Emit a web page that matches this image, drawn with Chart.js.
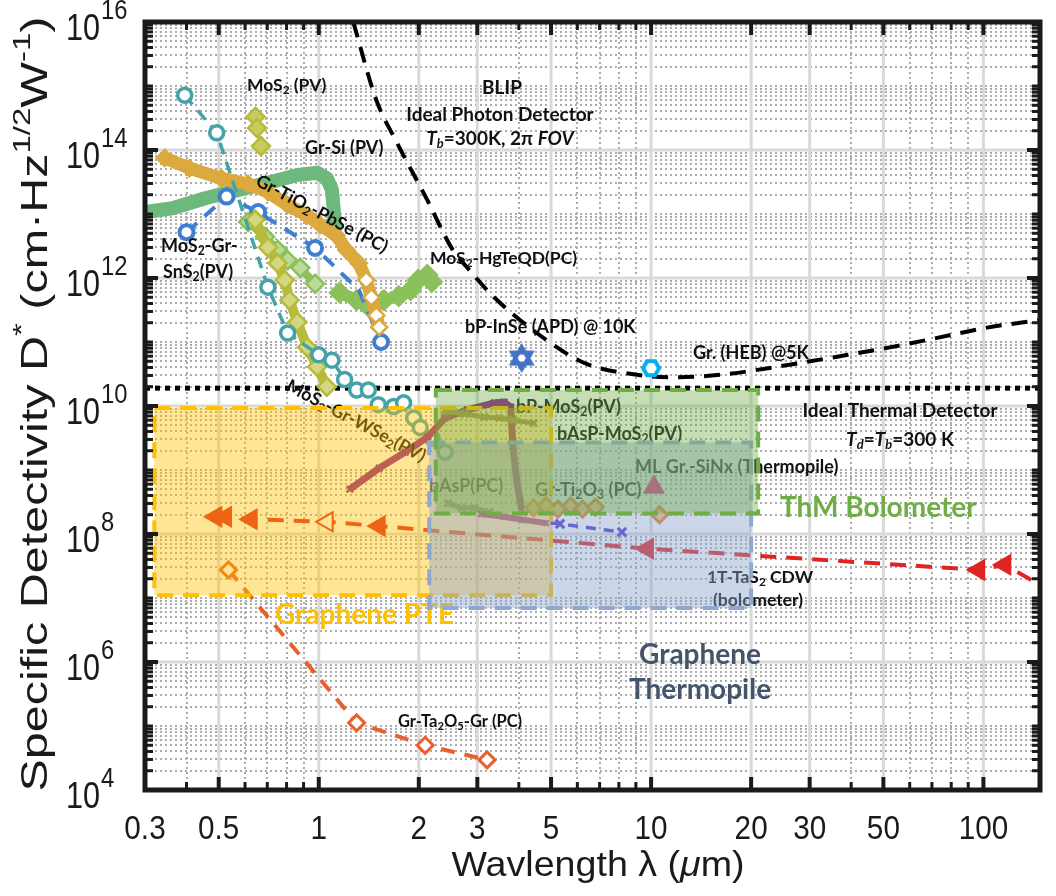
<!DOCTYPE html>
<html><head><meta charset="utf-8">
<style>html,body{margin:0;padding:0;background:#fff;}canvas{display:block}</style>
<script src="https://cdn.jsdelivr.net/npm/chart.js@4.4.1/dist/chart.umd.min.js"></script>
</head><body>
<canvas id="c" width="1056" height="896"></canvas>
<script>
// ---------- axis ranges & ticks ----------
const X_MIN = 0.3, X_MAX = 148, Y_MIN = 1e4, Y_MAX = 1e16;
const xTickValues = [0.3, 0.5, 1, 2, 3, 5, 10, 20, 30, 50, 100];
const xTickLabels = ['0.3', '0.5', '1', '2', '3', '5', '10', '20', '30', '50', '100'];
const yTickExponents = [4, 6, 8, 10, 12, 14, 16];

// ---------- series (wavelength in um, D* in Jones) ----------
const blipX = [1.27, 1.49, 1.70, 2.12, 2.53, 2.84, 3.37, 4.67, 6.30, 8.74, 11.8, 16.9, 24.6, 36.3, 51.4, 70.3, 101.5, 148];
const blipY = [1e16, 6e14, 1.45e14, 1.66e13, 2.75e12, 1.33e12, 5e11, 1.23e11, 4.7e10, 3.16e10, 2.8e10, 3.16e10, 4.2e10, 5.9e10, 8.1e10, 1.12e11, 1.66e11, 2.2e11];
const thermalX = [0.3, 148];
const thermalY = [1.9e10, 1.9e10];

const pbseX = [0.344, 0.408, 0.510, 0.613, 0.703, 0.806, 0.923, 1.009, 1.13, 1.21, 1.32, 1.39, 1.44, 1.49, 1.52];
const pbseY = [7.5e13, 5.2e13, 3.6e13, 2.95e13, 2.2e13, 1.38e13, 9.5e12, 6.8e12, 4.6e12, 2.75e12, 1.7e12, 9.3e11, 5e11, 2.6e11, 1.7e11];
const grSiX = [0.3, 0.363, 0.458, 0.573, 0.717, 0.862, 0.989, 1.058, 1.095, 1.11, 1.116];
const grSiY = [1.07e13, 1.23e13, 1.78e13, 2.37e13, 3.16e13, 4.07e13, 4.4e13, 3.6e13, 2.4e13, 1.15e13, 5.6e12];
const snS2X = [0.40, 0.528, 0.657, 0.975, 1.32, 1.54];
const snS2Y = [5.2e12, 1.87e13, 1.07e13, 2.95e12, 6.5e11, 1e11];
const wse2X = [0.395, 0.493, 0.703, 0.806, 1.0, 1.095, 1.196, 1.30, 1.41, 1.51, 1.68, 1.80, 1.93, 2.02, 2.19, 2.40];
const wse2Y = [7.2e14, 1.86e14, 7.2e11, 1.38e11, 6.3e10, 5.2e10, 2.6e10, 1.78e10, 1.78e10, 1.05e10, 9.8e9, 1.12e10, 6.5e9, 4.6e9, 3.16e9, 1.9e9];
const mos2PvX = [0.645, 0.652, 0.67];
const mos2PvY = [3.3e14, 2.2e14, 1.15e14];
const oliveX = [0.644, 0.703, 0.752, 0.79, 0.817, 0.862, 0.923, 0.989, 1.058];
const oliveY = [8.1e12, 3.0e12, 1.7e12, 9.3e11, 4.5e11, 2.05e11, 8.3e10, 4.1e10, 2.0e10];
const greenDX = [0.613, 0.689, 0.752, 0.806, 0.88, 0.975];
const greenDY = [7.5e12, 4.4e12, 2.75e12, 1.9e12, 1.44e12, 8.1e11];
const hgteX = [1.156, 1.30, 1.418, 1.57, 1.74, 1.89, 1.99, 2.12, 2.19];
const hgteY = [5.9e11, 4.5e11, 3.5e11, 4.5e11, 5.2e11, 6.5e11, 9.3e11, 1.12e12, 8.7e11];
const pteX = [0.49, 0.524, 0.626, 1.06, 1.52, 9.75, 96.8, 116, 148];
const pteY = [1.86e8, 1.86e8, 1.7e8, 1.55e8, 1.33e8, 5.9e7, 2.75e7, 3.3e7, 1.6e7];
const ta2o5X = [0.535, 1.30, 2.09, 3.21];
const ta2o5Y = [2.75e7, 1.12e5, 5.0e4, 2.95e4];
const bpMos2X = [1.24, 1.52, 1.82, 2.13, 2.40, 2.80, 3.37, 3.61, 3.78, 3.84, 3.94, 4.08];
const bpMos2Y = [5.0e8, 1.07e9, 1.9e9, 3.3e9, 6.5e9, 8.7e9, 1.12e10, 1.15e10, 9.6e9, 2.3e9, 6.9e8, 2.4e8];
const bpLowX = [3.08, 3.61, 4.13, 4.83];
const bpLowY = [2.05e8, 1.86e8, 1.66e8, 1.48e8];
const basPcX = [2.45, 2.69, 2.93, 3.26];
const basPcY = [3.0e8, 2.57e8, 2.57e8, 2.2e8];
const basMos2X = [2.40, 2.75, 3.15, 3.49, 3.84, 4.43];
const basMos2Y = [8.3e9, 7.5e9, 6.7e9, 6.5e9, 6.0e9, 5.4e9];
const violetX = [4.97, 5.32, 8.17];
const violetY = [1.48e8, 1.44e8, 1.07e8];
const ti2o3X = [4.43, 4.83, 5.24, 5.73, 6.22, 6.8, 10.6];
const ti2o3Y = [2.57e8, 2.75e8, 2.45e8, 2.75e8, 2.45e8, 2.63e8, 2.0e8];
const sinxX = [10.2], sinxY = [5.4e8];
const inseX = [4.08], inseY = [5.6e10];
const hebX = [10.0], hebY = [3.9e10];

// performance regions (x range, y range)
const pteBoxX = [0.32, 5], pteBoxY = [1.1e7, 9.3e9];
const thermoBoxX = [2.15, 20], thermoBoxY = [7e6, 2.7e9];
const boloBoxX = [2.25, 21], boloBoxY = [2.1e8, 1.78e10];

// ---------- helpers ----------
const pts = (xs, ys) => xs.map((x, i) => ({x, y: ys[i]}));

function parseRich(s) {
  const segs = []; let buf = '', i = 0;
  while (i < s.length) {
    const c = s[i];
    if ('_^~!'.includes(c) && s[i + 1] === '{') {
      if (buf) { segs.push({t: buf, k: 'n'}); buf = ''; }
      const j = s.indexOf('}', i);
      segs.push({t: s.slice(i + 2, j), k: c}); i = j + 1;
    } else { buf += c; i++; }
  }
  if (buf) segs.push({t: buf, k: 'n'});
  return segs;
}
function richText(ctx, str, x, y, o) {
  const size = o.size, fam = o.family || 'Lato, "Open Sans", sans-serif', wt = o.weight || 'bold';
  const segs = parseRich(str);
  const fontFor = k => {
    const small = (k === '_' || k === '^' || k === '!');
    const it = (k === '~' || k === '!');
    return (it ? 'italic ' : '') + wt + ' ' + (small ? size * 0.68 : size) + 'px ' + fam;
  };
  ctx.save();
  ctx.translate(x, y);
  if (o.rot) ctx.rotate(o.rot * Math.PI / 180);
  let w = 0;
  segs.forEach(s => { ctx.font = fontFor(s.k); s.w = ctx.measureText(s.t).width; w += s.w; });
  const sx = o.width ? o.width / w : (o.sx || 1);
  ctx.scale(sx, 1);
  let cx = o.align === 'center' ? -w / 2 : (o.align === 'right' ? -w : 0);
  ctx.textBaseline = 'middle';
  ctx.fillStyle = o.color || '#000';
  segs.forEach(s => {
    ctx.font = fontFor(s.k);
    const dy = (s.k === '_' || s.k === '!') ? size * 0.28 : (s.k === '^' ? -size * 0.38 : 0);
    ctx.fillText(s.t, cx, dy);
    cx += s.w;
  });
  ctx.restore();
}

function hexagram(size, color, lw) {
  const c = document.createElement('canvas'); c.width = c.height = size;
  const g = c.getContext('2d'); const r = size / 2 - lw, m = size / 2;
  const tri = off => { g.beginPath(); for (let k = 0; k < 3; k++) { const a = off + k * 2 * Math.PI / 3; const px = m + r * Math.cos(a), py = m + r * Math.sin(a); k ? g.lineTo(px, py) : g.moveTo(px, py); } g.closePath(); };
  g.lineWidth = lw; g.strokeStyle = color; g.fillStyle = '#fff'; g.lineJoin = 'miter';
  tri(-Math.PI / 2); g.fill(); tri(Math.PI / 2); g.fill();
  tri(-Math.PI / 2); g.stroke(); tri(Math.PI / 2); g.stroke();
  return c;
}
function hexagon(size, color, lw) {
  const c = document.createElement('canvas'); c.width = c.height = size;
  const g = c.getContext('2d'); const r = size / 2 - lw, m = size / 2;
  g.beginPath();
  for (let k = 0; k < 6; k++) { const a = k * Math.PI / 3; const px = m + r * Math.cos(a), py = m + r * Math.sin(a); k ? g.lineTo(px, py) : g.moveTo(px, py); }
  g.closePath(); g.fillStyle = '#fff'; g.fill(); g.lineWidth = lw; g.strokeStyle = color; g.stroke();
  return c;
}

// ---------- annotations (text, px, py, align, rotation, size) ----------
const notes = [
  ['MoS_{2} (PV)', 247, 85, 'left', 0, 17.5],
  ['Gr-Si (PV)', 305, 148, 'left', 0, 18],
  ['Gr-TiO_{2}-PbSe (PC)', 322, 214, 'center', 28, 18],
  ['MoS_{2}-Gr-', 161, 246, 'left', 0, 18],
  ['SnS_{2}(PV)', 163, 272, 'left', 0, 18],
  ['MoS_{2}-HgTeQD(PC)', 430, 258, 'left', 0, 17.5],
  ['BLIP', 502, 88, 'center', 0, 19],
  ['Ideal Photon Detector', 500, 115, 'center', 0, 19],
  ['~{T}!{b}=300K, 2π ~{FOV}', 500, 139, 'center', 0, 19],
  ['bP-InSe (APD) @ 10K', 465, 327, 'left', 0, 18],
  ['Gr. (HEB) @5K', 693, 353, 'left', 0, 18],
  ['Ideal Thermal Detector', 900, 411, 'center', 0, 19],
  ['~{T}!{d}=~{T}!{b}=300 K', 900, 440, 'center', 0, 19],
  ['MoS_{2}-Gr-WSe_{2}(PV)', 356, 421, 'center', 28, 18],
  ['bP-MoS_{2}(PV)', 516, 407, 'left', 0, 18],
  ['bAsP-MoS_{2}(PV)', 557, 434, 'left', 0, 18],
  ['bAsP(PC)', 429, 486, 'left', 0, 18],
  ['Gr-Ti_{2}O_{3} (PC)', 535, 490, 'left', 0, 18],
  ['ML Gr.-SiNx (Thermopile)', 635, 467, 'left', 0, 18],
  ['1T-TaS_{2} CDW', 760, 577, 'center', 0, 17.5],
  ['(bolometer)', 758, 600, 'center', 0, 17.5],
  ['Gr-Ta_{2}O_{5}-Gr (PC)', 398, 722, 'left', 0, 16.5]
];
const regionNotes = [
  ['Graphene PTE', 275, 615, 'left', '#ffc000'],
  ['Graphene', 700, 655, 'center', '#44546a'],
  ['Thermopile', 700, 690, 'center', '#44546a'],
  ['ThM Bolometer', 780, 508, 'left', '#70ad47']
];

function isMajorX(v) { return xTickValues.some(t => Math.abs(t - v) / t < 1e-6); }

const decor = {
  id: 'decor',
  beforeDatasetsDraw(chart) {
    const {ctx, chartArea: a, scales: {x, y}} = chart;
    ctx.save();
    ctx.beginPath(); ctx.rect(a.left, a.top, a.right - a.left, a.bottom - a.top); ctx.clip();
    ctx.strokeStyle = '#acacac'; ctx.lineWidth = 2; ctx.setLineDash([2, 3]);
    for (let e = -1; e <= 2; e++) for (let k = 1; k <= 9; k++) {
      const v = k * Math.pow(10, e);
      if (v < X_MIN - 1e-9 || v > X_MAX || isMajorX(v)) continue;
      const p = Math.round(x.getPixelForValue(v));
      ctx.beginPath(); ctx.moveTo(p, a.top); ctx.lineTo(p, a.bottom); ctx.stroke();
    }
    for (let e = 4; e <= 15; e++) for (let k = 1; k <= 9; k++) {
      if (k === 1 && e % 2 === 0) continue;
      const p = Math.round(y.getPixelForValue(k * Math.pow(10, e)));
      ctx.beginPath(); ctx.moveTo(a.left, p); ctx.lineTo(a.right, p); ctx.stroke();
    }
    ctx.setLineDash([]); ctx.strokeStyle = '#d9d9d9'; ctx.lineWidth = 3;
    xTickValues.forEach(v => { const p = x.getPixelForValue(v); ctx.beginPath(); ctx.moveTo(p, a.top); ctx.lineTo(p, a.bottom); ctx.stroke(); });
    yTickExponents.forEach(e => { const p = y.getPixelForValue(Math.pow(10, e)); ctx.beginPath(); ctx.moveTo(a.left, p); ctx.lineTo(a.right, p); ctx.stroke(); });
    ctx.restore();
  },
  afterDatasetsDraw(chart) {
    const {ctx, chartArea: a, scales: {x, y}} = chart;
    ctx.save();
    ctx.beginPath(); ctx.rect(a.left, a.top, a.right - a.left, a.bottom - a.top); ctx.clip();
    notes.forEach(n => richText(ctx, n[0], n[1], n[2], {align: n[3], rot: n[4], size: n[5], color: '#111'}));
    regionNotes.forEach(n => richText(ctx, n[0], n[1], n[2], {align: n[3], size: 28, color: n[4]}));
    const box = (bx, by, fill, stroke) => {
      const l = x.getPixelForValue(bx[0]), r = x.getPixelForValue(bx[1]);
      const t = y.getPixelForValue(by[1]), b = y.getPixelForValue(by[0]);
      ctx.fillStyle = fill; ctx.fillRect(l, t, r - l, b - t);
      ctx.setLineDash([16, 10]); ctx.lineWidth = 4; ctx.strokeStyle = stroke;
      ctx.strokeRect(l, t, r - l, b - t); ctx.setLineDash([]);
    };
    box(pteBoxX, pteBoxY, 'rgba(255,192,0,0.42)', '#ffc000');
    box(thermoBoxX, thermoBoxY, 'rgba(140,165,205,0.45)', '#8fa8d0');
    box(boloBoxX, boloBoxY, 'rgba(112,173,71,0.40)', '#70ad47');
    ctx.restore();
    ctx.save();
    ctx.strokeStyle = '#1a1a1a';
    const tick = (x1, y1, x2, y2, w) => { ctx.lineWidth = w; ctx.beginPath(); ctx.moveTo(x1, y1); ctx.lineTo(x2, y2); ctx.stroke(); };
    for (let e = -1; e <= 2; e++) for (let k = 1; k <= 9; k++) {
      const v = k * Math.pow(10, e);
      if (v < X_MIN - 1e-9 || v > X_MAX) continue;
      const p = x.getPixelForValue(v), L = isMajorX(v) ? 13 : 8, w = isMajorX(v) ? 4 : 3;
      tick(p, a.bottom, p, a.bottom - L, w); tick(p, a.top, p, a.top + L, w);
    }
    for (let e = 4; e <= 16; e++) for (let k = 1; k <= 9; k++) {
      const v = k * Math.pow(10, e); if (v > Y_MAX) continue;
      const maj = (k === 1 && e % 2 === 0);
      const p = y.getPixelForValue(v), L = maj ? 13 : 8, w = maj ? 4 : 3;
      tick(a.left, p, a.left + L, p, w); tick(a.right, p, a.right - L, p, w);
    }
    ctx.lineWidth = 5; ctx.strokeRect(a.left, a.top, a.right - a.left, a.bottom - a.top);
    ctx.restore();
  },
  afterDraw(chart) {
    const {ctx, chartArea: a, scales: {x, y}} = chart;
    const fam = '"Liberation Sans", Arial, sans-serif';
    xTickValues.forEach((v, i) => richText(ctx, xTickLabels[i], x.getPixelForValue(v), a.bottom + 40, {align: 'center', size: 33, sx: 0.9, family: fam, weight: 'normal', color: '#1a1a1a'}));
    yTickExponents.forEach(e => {
      const p = y.getPixelForValue(Math.pow(10, e));
      richText(ctx, '10', 100, p + 8, {align: 'right', size: 36, sx: 0.85, family: fam, weight: 'normal', color: '#1a1a1a'});
      richText(ctx, String(e), 101, p - 11, {align: 'left', size: 28, sx: 0.85, family: fam, weight: 'normal', color: '#1a1a1a'});
    });
    richText(ctx, 'Wavlength λ (~{μ}m)', 598, 866, {align: 'center', size: 35, width: 293, family: fam, weight: 'normal', color: '#1a1a1a'});
    richText(ctx, 'Specific Detectivity D^{*} (cm·Hz^{1/2}W^{-1})', 37, 404, {align: 'center', size: 36, width: 775, rot: -90, family: fam, weight: 'normal', color: '#1a1a1a'});
  }
};

const openTri = pteX.map((v, i) => i === 3 ? '#ffffff' : '#e02424');
const pbseFill = pbseX.map((v, i) => i >= 11 ? '#ffffff' : '#dba93d');
const violetR = violetX.map((v, i) => i === 0 ? 0 : 6);
const pteR = pteX.map((v, i) => i === pteX.length - 1 ? 0 : 11);

const datasets = [
  {data: pts(inseX, inseY), showLine: false, pointStyle: hexagram(30, '#4472c4', 4), pointRadius: 15},
  {data: pts(hebX, hebY), showLine: false, pointStyle: hexagon(24, '#00b0f0', 4), pointRadius: 12},
  {data: pts(sinxX, sinxY), showLine: false, pointStyle: 'triangle', pointRadius: 12, pointBackgroundColor: '#ff0088', pointBorderColor: '#ff0088'},
  {data: pts(ti2o3X, ti2o3Y), showLine: false, pointStyle: 'rectRot', pointRadius: 8, pointBorderWidth: 3, pointBorderColor: '#e87a20', pointBackgroundColor: '#f6c48a'},
  {data: pts(pteX, pteY), borderColor: '#e02424', borderWidth: 4, borderDash: [16, 10], pointStyle: 'triangle', pointRotation: -90, pointRadius: pteR, pointBorderWidth: 2, pointBorderColor: '#e02424', pointBackgroundColor: openTri},
  {data: pts(ta2o5X, ta2o5Y), borderColor: '#e8602c', borderWidth: 4, borderDash: [14, 10], pointStyle: 'rectRot', pointRadius: 8, pointBorderWidth: 3, pointBorderColor: '#e8602c', pointBackgroundColor: '#ffffff'},
  {data: pts(violetX, violetY), borderColor: '#4a36d8', borderWidth: 3.5, borderDash: [10, 8], pointStyle: 'crossRot', pointRadius: violetR, pointBorderWidth: 3, pointBorderColor: '#4a36d8'},
  {data: pts(bpLowX, bpLowY), borderColor: '#8a1a8e', borderWidth: 6, pointStyle: 'crossRot', pointRadius: 4, pointBorderWidth: 2.5, pointBorderColor: '#8a1a8e'},
  {data: pts(basPcX, basPcY), borderColor: '#7f7f7f', borderWidth: 5, pointStyle: 'crossRot', pointRadius: 5, pointBorderWidth: 3, pointBorderColor: '#7f7f7f'},
  {data: pts(basMos2X, basMos2Y), borderColor: '#7f7f7f', borderWidth: 5, pointStyle: 'crossRot', pointRadius: 5, pointBorderWidth: 3, pointBorderColor: '#7f7f7f'},
  {data: pts(bpMos2X, bpMos2Y), borderColor: '#8a1a8e', borderWidth: 7, pointStyle: 'crossRot', pointRadius: 4.5, pointBorderWidth: 2.5, pointBorderColor: '#8a1a8e'},
  {data: pts(wse2X, wse2Y), borderColor: '#44a3a8', borderWidth: 3.5, borderDash: [12, 8], pointStyle: 'circle', pointRadius: 7, pointBorderWidth: 3.5, pointBorderColor: '#44a3a8', pointBackgroundColor: '#ffffff'},
  {data: pts(oliveX, oliveY), borderColor: '#b6bb3b', borderWidth: 10, pointStyle: 'rectRot', pointRadius: 9, pointBorderWidth: 2.5, pointBorderColor: '#b6bb3b', pointBackgroundColor: '#d4d782'},
  {data: pts(greenDX, greenDY), borderColor: '#8cc05b', borderWidth: 8, pointStyle: 'rectRot', pointRadius: 9, pointBorderWidth: 2.5, pointBorderColor: '#8cc05b', pointBackgroundColor: '#b9db95'},
  {data: pts(mos2PvX, mos2PvY), borderColor: '#b6bb3b', borderWidth: 3, pointStyle: 'rectRot', pointRadius: 9, pointBorderWidth: 2.5, pointBorderColor: '#b6bb3b', pointBackgroundColor: '#c9cc5c'},
  {data: pts(pbseX, pbseY), borderColor: '#dba93d', borderWidth: 13, pointStyle: 'rectRot', pointRadius: 8, pointBorderWidth: 2.5, pointBorderColor: '#dba93d', pointBackgroundColor: pbseFill},
  {data: pts(snS2X, snS2Y), borderColor: '#3d7fd1', borderWidth: 4, borderDash: [14, 10], pointStyle: 'circle', pointRadius: [7, 7, 7, 7, 0, 7], pointBorderWidth: 4, pointBorderColor: '#3d7fd1', pointBackgroundColor: '#ffffff'},
  {data: pts(hgteX, hgteY), borderColor: '#8cc05b', borderWidth: 12, pointStyle: 'rectRot', pointRadius: 10, pointBorderWidth: 2, pointBorderColor: '#8cc05b', pointBackgroundColor: '#8cc05b'},
  {data: pts(grSiX, grSiY), borderColor: '#6cb87d', borderWidth: 14, borderCapStyle: 'round', borderJoinStyle: 'round', pointRadius: 0},
  {data: pts(thermalX, thermalY), borderColor: '#000000', borderWidth: 5, borderDash: [5, 5], pointRadius: 0},
  {data: pts(blipX, blipY), borderColor: '#000000', borderWidth: 4, borderDash: [16, 10], pointRadius: 0, cubicInterpolationMode: 'monotone'}
];
datasets.forEach(d => { d.fill = false; if (d.tension === undefined) d.tension = 0; });

new Chart(document.getElementById('c'), {
  type: 'line',
  data: {datasets},
  options: {
    responsive: false, animation: false, devicePixelRatio: 1,
    layout: {padding: {top: 22, right: 3, left: 0, bottom: 0}},
    plugins: {legend: {display: false}, tooltip: {enabled: false}},
    scales: {
      x: {type: 'logarithmic', min: X_MIN, max: X_MAX, ticks: {display: false}, grid: {display: false}, border: {display: false},
          afterFit(s) { s.height = 106; }},
      y: {type: 'logarithmic', min: Y_MIN, max: Y_MAX, ticks: {display: false}, grid: {display: false}, border: {display: false},
          afterFit(s) { s.width = 145; }}
    }
  },
  plugins: [decor]
});
</script>
</body></html>
